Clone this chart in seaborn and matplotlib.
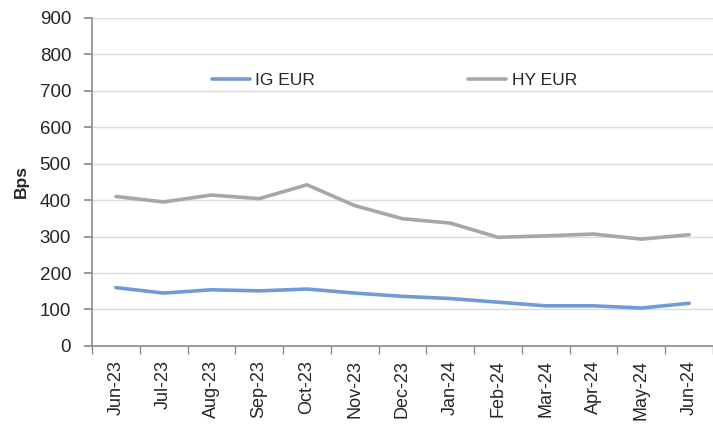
import numpy as np
import pandas as pd
import matplotlib.pyplot as plt
import seaborn as sns

months = ["Jun-23", "Jul-23", "Aug-23", "Sep-23", "Oct-23", "Nov-23", "Dec-23",
          "Jan-24", "Feb-24", "Mar-24", "Apr-24", "May-24", "Jun-24"]
ig_eur = [160, 145, 154, 151, 156, 145, 136, 130, 120, 110, 110, 104, 117]
hy_eur = [410, 395, 414, 404, 442, 385, 349, 337, 298, 302, 307, 293, 305]

sns.set_theme(style="white")
plt.rcParams["font.family"] = ["Liberation Sans", "DejaVu Sans"]

df = pd.DataFrame({
    "pos": list(range(len(months))) * 2,
    "value": ig_eur + hy_eur,
    "series": ["IG EUR"] * len(months) + ["HY EUR"] * len(months),
})

fig = plt.figure(figsize=(7.13, 4.26), dpi=100)
ax = fig.add_axes([0.129, 0.188, 0.871, 0.770])

sns.lineplot(data=df, x="pos", y="value", hue="series", sort=False,
             palette={"IG EUR": "#6f9bd8", "HY EUR": "#a5a7a8"},
             linewidth=2.6, ax=ax)

ax.set_ylim(0, 900)
ax.set_yticks(range(0, 901, 100))
ax.set_xlim(-0.48, 12.42)
ax.set_xticks(range(len(months)))
ax.set_xticklabels(months, rotation=90, fontsize=13)
ax.set_xticks(np.arange(-0.5, len(months), 1), minor=True)
ax.tick_params(axis="x", which="major", length=0, pad=10)
ax.tick_params(axis="x", which="minor", length=6, color="#8c8c8c", direction="out", bottom=True)
ax.tick_params(axis="y", length=6, color="#8c8c8c", direction="out", left=True,
               labelsize=13.5, pad=9)
ax.yaxis.grid(True, color="#dcdcdc", linewidth=1)
ax.set_axisbelow(True)

for side in ["top", "right"]:
    ax.spines[side].set_visible(False)
for side in ["left", "bottom"]:
    ax.spines[side].set_color("#8c8c8c")
    ax.spines[side].set_linewidth(1.2)

ax.set_xlabel("")
ax.set_ylabel("Bps", fontsize=12.5, fontweight="bold", labelpad=8)

ax.legend(loc="center", bbox_to_anchor=(0.487, 0.81), ncol=2, frameon=False,
          fontsize=12.5, columnspacing=8.8, handlelength=2.2, handletextpad=0.3)

fig.savefig("out.png", dpi=100)
